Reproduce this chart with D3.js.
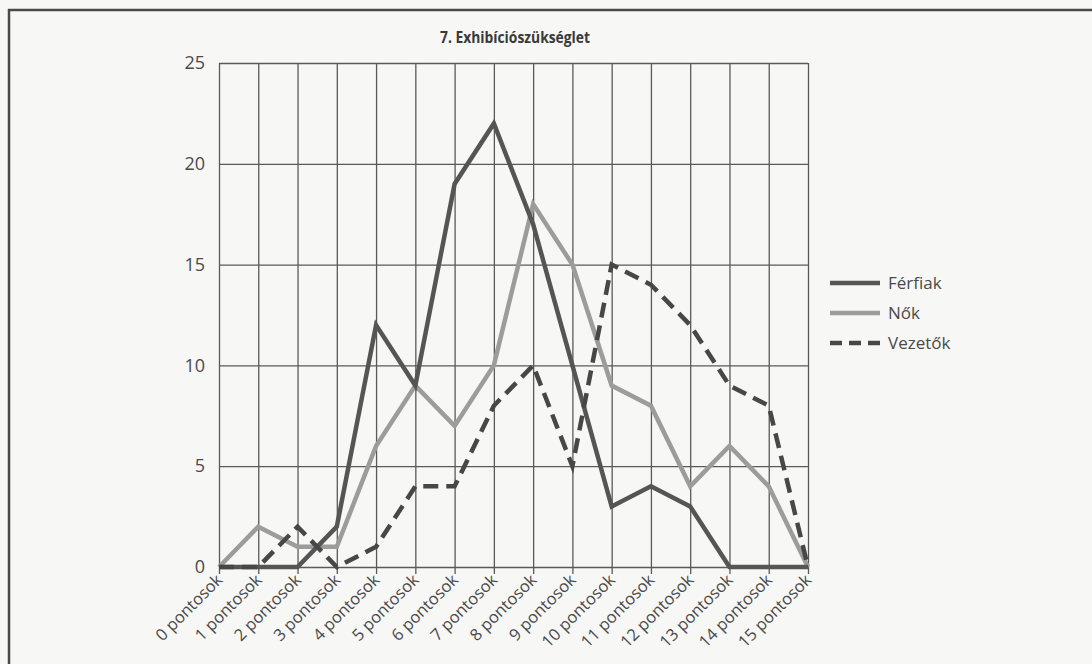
<!DOCTYPE html>
<html lang="hu">
<head>
    <title>7. Exhibíciószükséglet</title>
    <meta charset="utf-8">
    <script src="https://d3js.org/d3.v7.min.js"></script>
    <style>
        * {
            margin: 0;
            padding: 0;
        }
        body {
            width: 1092px;
            height: 664px;
            background-color: #f7f7f5;
            overflow: hidden;
        }
        svg text {
            font-family: "Open Sans", "Noto Sans", sans-serif;
            fill: #4a4a4a;
        }
    </style>
</head>
<body>
<div id="container"></div>
<script>
    const categories = ["0 pontosok", "1 pontosok", "2 pontosok", "3 pontosok", "4 pontosok", "5 pontosok",
        "6 pontosok", "7 pontosok", "8 pontosok", "9 pontosok", "10 pontosok", "11 pontosok",
        "12 pontosok", "13 pontosok", "14 pontosok", "15 pontosok"];
    const ferfiak = [0, 0, 0, 2, 12, 9, 19, 22, 17, 10, 3, 4, 3, 0, 0, 0];
    const nok = [0, 2, 1, 1, 6, 9, 7, 10, 18, 15, 9, 8, 4, 6, 4, 0];
    const vezetok = [0, 0, 2, 0, 1, 4, 4, 8, 10, 5, 15, 14, 12, 9, 8, 0];
    const yTicks = [0, 5, 10, 15, 20, 25];

    const series = [
        { name: "Férfiak", values: ferfiak, color: "#555555", dash: null },
        { name: "Nők", values: nok, color: "#9c9c9c", dash: null },
        { name: "Vezetők", values: vezetok, color: "#474747", dash: "15,8" }
    ];

    const w = 1092;
    const h = 664;
    const plotLeft = 219, plotRight = 808, plotTop = 63, plotBottom = 567;

    const svg = d3.select("#container")
        .append("svg")
        .attr("width", w)
        .attr("height", h);

    // frame of the scanned figure
    svg.append("path")
        .attr("d", `M9,${h + 5}V10H${w + 5}`)
        .attr("fill", "none")
        .attr("stroke", "#4a4a4a")
        .attr("stroke-width", 2.5);

    const xScale = d3.scalePoint()
        .domain(categories)
        .range([plotLeft, plotRight]);

    const yScale = d3.scaleLinear()
        .domain([0, 25])
        .range([plotBottom, plotTop]);

    // horizontal grid + y labels
    const yAxis = d3.axisLeft(yScale)
        .tickValues(yTicks)
        .tickSize(-(plotRight - plotLeft))
        .tickPadding(14);
    const gy = svg.append("g")
        .attr("transform", `translate(${plotLeft},0)`)
        .call(yAxis);
    gy.select(".domain").remove();
    gy.selectAll("line").attr("stroke", "#5a5a5a").attr("stroke-width", 1.3);
    gy.selectAll("text")
        .attr("font-size", 18)
        .style("fill", "#4a4a4a");

    // vertical grid + x labels
    const xAxis = d3.axisBottom(xScale)
        .tickSize(-(plotBottom - plotTop))
        .tickSizeOuter(0);
    const gx = svg.append("g")
        .attr("transform", `translate(0,${plotBottom})`)
        .call(xAxis);
    gx.select(".domain").remove();
    gx.selectAll("line").attr("stroke", "#5a5a5a").attr("stroke-width", 1.3)
        .attr("y1", 7);
    gx.selectAll("text")
        .attr("font-size", 16.5)
        .style("fill", "#4a4a4a")
        .attr("text-anchor", "end")
        .attr("dy", 0)
        .attr("transform", "translate(4,14) rotate(-45)")
        .attr("x", 0)
        .attr("y", 0);

    const line = d3.line()
        .x((d, i) => xScale(categories[i]))
        .y(d => yScale(d));

    // draw light series first, dark on top
    [series[1], series[0], series[2]].forEach(s => {
        svg.append("path")
            .datum(s.values)
            .attr("d", line)
            .attr("fill", "none")
            .attr("stroke", s.color)
            .attr("stroke-width", 4.5)
            .attr("stroke-linejoin", "miter")
            .attr("stroke-dasharray", s.dash);
    });

    svg.append("text")
        .attr("x", 515)
        .attr("y", 43)
        .attr("text-anchor", "middle")
        .attr("font-size", 16)
        .attr("font-weight", "bold")
        .attr("textLength", 150)
        .attr("lengthAdjust", "spacingAndGlyphs")
        .style("fill", "#3a3a3a")
        .text("7. Exhibíciószükséglet");

    const legend = svg.append("g")
        .selectAll("g")
        .data(series)
        .enter()
        .append("g")
        .attr("transform", (d, i) => `translate(830,${283 + i * 30})`);
    legend.append("line")
        .attr("x1", 0)
        .attr("x2", 50)
        .attr("stroke", d => d.color)
        .attr("stroke-width", 4.5)
        .attr("stroke-dasharray", d => d.dash ? "12,7" : null);
    legend.append("text")
        .attr("x", 58)
        .attr("dy", "0.35em")
        .attr("font-size", 17)
        .text(d => d.name);
</script>
</body>
</html>
